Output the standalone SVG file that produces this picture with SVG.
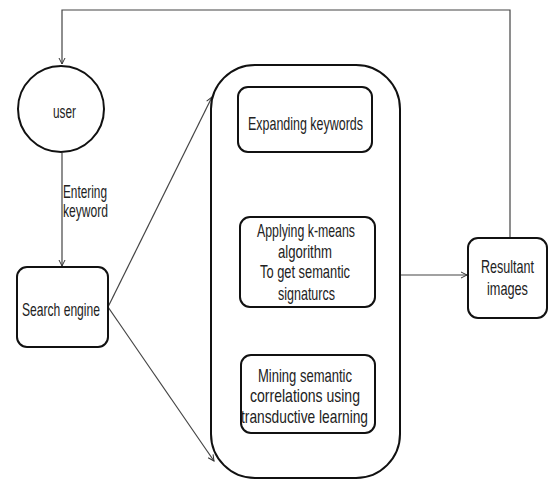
<svg xmlns="http://www.w3.org/2000/svg" width="552" height="481" viewBox="0 0 552 481">
<defs>
<marker id="arr" markerWidth="8" markerHeight="8" refX="7" refY="4" orient="auto" markerUnits="userSpaceOnUse">
<path d="M1,1 L7,4 L1,7" fill="none" stroke="#333" stroke-width="1"/>
</marker>
<style>
.n{fill:#fff;stroke:#111;stroke-width:2}
.c{fill:none;stroke:#444;stroke-width:1.2}
.t{font-family:"Liberation Sans",Arial,sans-serif;font-size:18px;fill:#222;text-anchor:middle}
</style>
</defs>
<rect width="552" height="481" fill="#fff"/>
<g id="connectors">
<path class="c" d="M510,238 V10 H62 V64" marker-end="url(#arr)"/>
<path class="c" d="M62,153 V266" marker-end="url(#arr)"/>
<path class="c" d="M108,307 L212,97" marker-end="url(#arr)"/>
<path class="c" d="M108,307 L214,461" marker-end="url(#arr)"/>
<path class="c" d="M306,152 V216" marker-end="url(#arr)"/>
<path class="c" d="M308,307 V354" marker-end="url(#arr)"/>
<path class="c" d="M400,275 H467" marker-end="url(#arr)"/>
<text class="t" transform="scale(0.7,1)" x="121.43" y="198" textLength="62.86" lengthAdjust="spacingAndGlyphs">Entering</text>
<text class="t" transform="scale(0.7,1)" x="122.14" y="217" textLength="64.29" lengthAdjust="spacingAndGlyphs">keyword</text>
</g>
<g id="container">
<rect class="n" x="211" y="65" width="189" height="413" rx="44"/>
</g>
<g id="user">
<circle class="n" cx="61" cy="109" r="43"/>
<text class="t" transform="scale(0.7,1)" x="92.14" y="118" textLength="32.86" lengthAdjust="spacingAndGlyphs">user</text>
</g>
<g id="search-engine">
<rect class="n" x="17" y="267" width="91" height="80" rx="10"/>
<text class="t" transform="scale(0.7,1)" x="87.14" y="316" textLength="111.43" lengthAdjust="spacingAndGlyphs">Search engine</text>
</g>
<g id="expanding">
<rect class="n" x="238" y="87" width="134" height="65" rx="10"/>
<text class="t" transform="scale(0.7,1)" x="436.43" y="130" textLength="164.29" lengthAdjust="spacingAndGlyphs">Expanding  keywords</text>
</g>
<g id="applying">
<rect class="n" x="240" y="217" width="135" height="90" rx="10"/>
<text class="t" transform="scale(0.7,1)" x="437.14" y="237" textLength="140" lengthAdjust="spacingAndGlyphs">Applying  k-means</text>
<text class="t" transform="scale(0.7,1)" x="435.71" y="258" textLength="77.14" lengthAdjust="spacingAndGlyphs">algorithm</text>
<text class="t" transform="scale(0.7,1)" x="435.71" y="278" textLength="128.57" lengthAdjust="spacingAndGlyphs">To get semantic</text>
<text class="t" transform="scale(0.7,1)" x="437.86" y="300" textLength="81.43" lengthAdjust="spacingAndGlyphs">signaturcs</text>
</g>
<g id="mining">
<rect class="n" x="241" y="355" width="134" height="78" rx="10"/>
<text class="t" transform="scale(0.7,1)" x="435.71" y="382" textLength="134.29" lengthAdjust="spacingAndGlyphs">Mining  semantic</text>
<text class="t" transform="scale(0.7,1)" x="435.71" y="402" textLength="157.14" lengthAdjust="spacingAndGlyphs">correlations using</text>
<text class="t" transform="scale(0.7,1)" x="435" y="423" textLength="181.43" lengthAdjust="spacingAndGlyphs">transductive learning</text>
</g>
<g id="resultant">
<rect class="n" x="468" y="238" width="79" height="80" rx="10"/>
<text class="t" transform="scale(0.7,1)" x="725" y="273" textLength="75.71" lengthAdjust="spacingAndGlyphs">Resultant</text>
<text class="t" transform="scale(0.7,1)" x="725" y="295" textLength="58.57" lengthAdjust="spacingAndGlyphs">images</text>
</g>
</svg>
